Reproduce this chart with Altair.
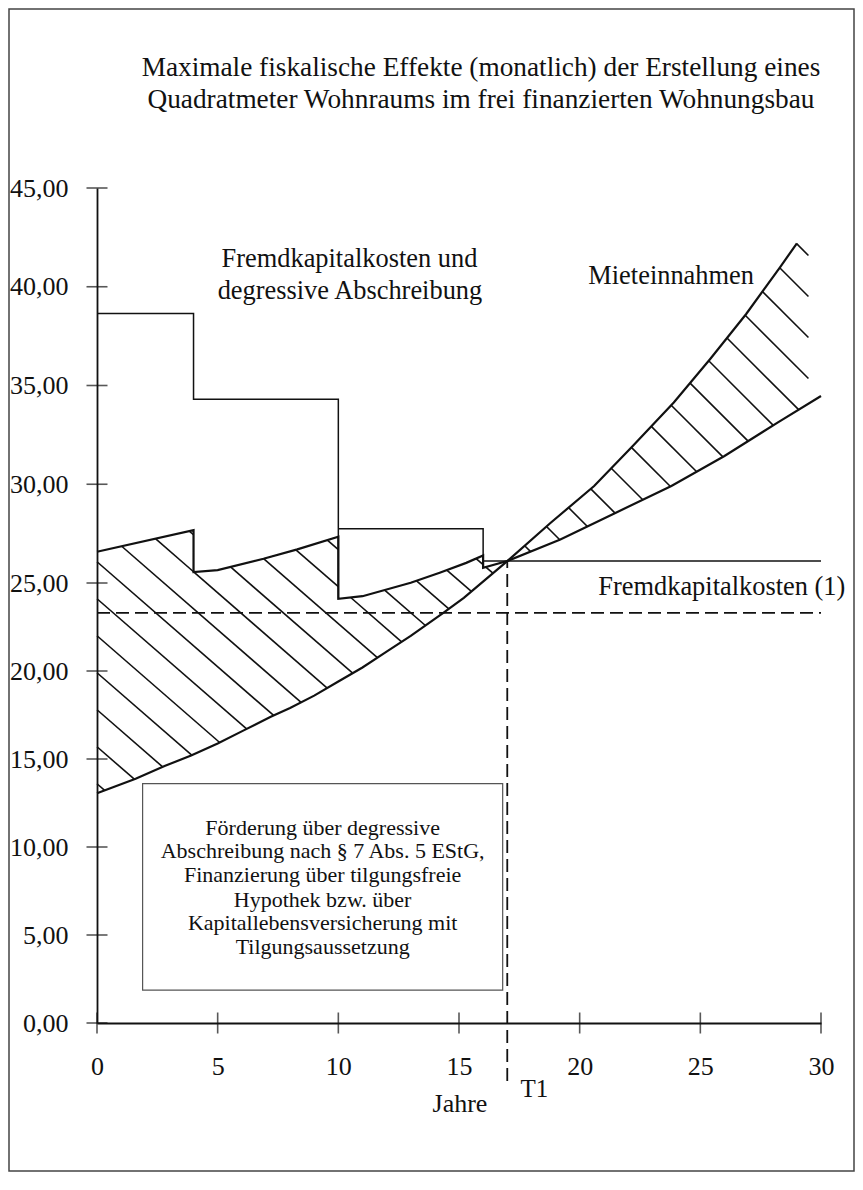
import altair as alt
import pandas as pd
import numpy as np

# ---------------- data ----------------
title_lines = [
    "Maximale fiskalische Effekte (monatlich) der Erstellung eines",
    "Quadratmeter Wohnraums im frei finanzierten Wohnungsbau",
]

# Fremdkapitalkosten und degressive Abschreibung (step line)
cost_x = [0, 4, 4, 10, 10, 10, 16, 16]
cost_y = [38.65, 38.65, 34.31, 34.31, 24.10, 27.75, 27.75, 25.77]

# Fremdkapitalkosten (1)
fk_x = [16, 30]
fk_y = [26.11, 26.11]

# Mieteinnahmen
miete_x = [0, 1.6, 2.8, 3.9, 5, 6.1, 7.2, 8, 9, 10, 11, 12, 13, 14.35, 15.2,
           17, 18.8, 20.6, 22.2, 23.9, 25.4, 26.9, 28.3, 29]
miete_y = [13.05, 13.88, 14.6, 15.2, 15.88, 16.64, 17.4, 17.9, 18.6, 19.4, 20.2,
           21.1, 22.0, 23.3, 24.16, 26.11, 28.05, 29.91, 31.94, 34.14, 36.33,
           38.62, 40.98, 42.2]

# boundary of the hatched effect (jagged before T1, smooth after)
eff_x = [0, 4, 4, 5, 6.9, 8.3, 10, 10, 11, 13, 14.2, 15.3, 16, 16, 17,
         19.2, 21.5, 23.8, 26, 28.2, 30]
eff_y = [26.58, 27.68, 25.55, 25.65, 26.23, 26.7, 27.34, 24.1, 24.25, 25.01,
         25.52, 26.02, 26.39, 25.77, 26.11, 27.2, 28.56, 29.91, 31.43, 33.12, 34.47]

dash_level = 23.3
t1_year = 17
t1_low = -3.3

x_ticks = [0, 5, 10, 15, 20, 25, 30]
y_ticks = [0, 5, 10, 15, 20, 25, 30, 35, 40, 45]

box_lines = [
    "Förderung über degressive",
    "Abschreibung nach § 7 Abs. 5 EStG,",
    "Finanzierung über tilgungsfreie",
    "Hypothek bzw. über",
    "Kapitallebensversicherung mit",
    "Tilgungsaussetzung",
]

# ---------------- layout ----------------
W, H = 724, 835
Y25 = 395          # the reference's value axis is drawn tighter below 25,00
XMAX, YMAX = 30, 45
FONT = "Liberation Serif"
INK = "#111111"

xs = alt.Scale(domain=[0, XMAX], nice=False, zero=False)
ys = alt.Scale(domain=[0, 25, YMAX], range=[H, Y25, 0], nice=False, zero=False)

AX = alt.Axis(values=x_ticks, format="d", ticks=False, tickSize=0, grid=False, title=None,
              domainColor=INK, domainWidth=1.8, labelFont=FONT, labelFontSize=26,
              labelColor=INK, labelPadding=30, labelFlush=False, zindex=1)
AY = alt.Axis(values=y_ticks, ticks=False, tickSize=0, grid=False, title=None,
              labelExpr="replace(format(datum.value, '.2f'), '.', ',')",
              domainColor=INK, domainWidth=1.8, labelFont=FONT, labelFontSize=26,
              labelColor=INK, labelPadding=29, labelFlush=False, zindex=1)


def X(f="x"):
    return alt.X(f"{f}:Q", scale=xs, axis=AX)


def Y(f="y"):
    return alt.Y(f"{f}:Q", scale=ys, axis=AY)


def series(xv, yv):
    return pd.DataFrame({"x": xv, "y": yv, "i": range(len(xv))})


# ---------------- hatching (diagonal lines clipped to the effect regions) ----------------
def to_px(x, y):
    py = H - y * (H - Y25) / 25 if y <= 25 else Y25 - (y - 25) * Y25 / (YMAX - 25)
    return x * W / XMAX, py


def to_data(px, py):
    y = (H - py) * 25 / (H - Y25) if py >= Y25 else 25 + (Y25 - py) * (YMAX - 25) / Y25
    return px * XMAX / W, y


def hatch(poly, c0, sp, m):
    P = [to_px(x, y) for x, y in poly]
    cs = [py - m * px for px, py in P]
    n = len(P)
    segs = []
    kmin = int(np.floor((min(cs) - c0) / sp))
    kmax = int(np.ceil((max(cs) - c0) / sp))
    for k in range(kmin, kmax + 1):
        c = c0 + k * sp
        pts = []
        for i in range(n):
            (ax, ay), (bx, by) = P[i], P[(i + 1) % n]
            ca, cb = cs[i], cs[(i + 1) % n]
            if (ca <= c < cb) or (cb <= c < ca):
                t = (c - ca) / (cb - ca)
                pts.append((ax + t * (bx - ax), ay + t * (by - ay)))
        pts.sort()
        for j in range(0, len(pts) - 1, 2):
            (x1, y1), (x2, y2) = pts[j], pts[j + 1]
            if abs(x2 - x1) < 0.5:
                continue
            d1, d2 = to_data(x1, y1), to_data(x2, y2)
            segs.append({"x": d1[0], "y": d1[1], "x2": d2[0], "y2": d2[1]})
    return segs


# region before T1: effect boundary on top, rent curve below
M1 = 0.87
up1 = [(x, y) for x, y in zip(eff_x, eff_y) if x <= t1_year]
lo1 = [(x, y) for x, y in zip(miete_x, miete_y) if x <= t1_year]
poly1 = up1 + lo1[::-1]
px0, py0 = to_px(0, 19.9)
segs = hatch(poly1, py0 - M1 * px0, 37.0, M1)

# region after T1: rent curve on top, effect boundary below
M2 = 1.0
cut = 29.48
top2 = [(x, y) for x, y in zip(miete_x, miete_y) if x >= t1_year]
apx, apy = to_px(*top2[-1])
c_apex = apy - M2 * apx + 0.6
cpx, _ = to_px(cut, 0)
corner = to_data(cpx, M2 * cpx + c_apex - 2)
bot2 = [(x, y) for x, y in zip(eff_x, eff_y) if t1_year <= x < cut]
poly2 = top2 + [(cut, corner[1]), (cut, float(np.interp(cut, eff_x, eff_y)))] + bot2[::-1]
segs += hatch(poly2, c_apex, 41.0, M2)
hatch_df = pd.DataFrame(segs)

# ---------------- layers ----------------
frame = alt.Chart(alt.Data(values=[{}])).mark_rect(
    fill="white", stroke="#444444", strokeWidth=1.5
).encode(
    x=alt.value(-88), x2=alt.value(W + 33), y=alt.value(-179), y2=alt.value(H + 148)
)

axes = alt.Chart(pd.DataFrame({"x": x_ticks, "y": [0] * len(x_ticks)})).mark_point(
    opacity=0
).encode(x=X(), y=Y())

xtick_marks = alt.Chart(pd.DataFrame({"x": x_ticks, "y": [0] * len(x_ticks)})).mark_tick(
    orient="vertical", size=21, thickness=1.6, color=INK
).encode(x=X(), y=Y())

ytick_marks = alt.Chart(pd.DataFrame({"x": [0] * len(y_ticks), "y": y_ticks})).mark_tick(
    orient="horizontal", size=21, thickness=1.6, color=INK
).encode(x=X(), y=Y())

box = alt.Chart(pd.DataFrame({"x": [1.89], "x2": [16.81], "y": [13.6], "y2": [1.87]})).mark_rect(
    fill="white", stroke="#555555", strokeWidth=1.2
).encode(x=X(), x2="x2:Q", y=Y(), y2="y2:Q")

hatch_layer = alt.Chart(hatch_df).mark_rule(color=INK, strokeWidth=1.6).encode(
    x=X(), y=Y(), x2="x2:Q", y2="y2:Q"
)

dash_h = alt.Chart(pd.DataFrame({"x": [0], "x2": [XMAX], "y": [dash_level]})).mark_rule(
    color=INK, strokeWidth=1.6, strokeDash=[13, 6]
).encode(x=X(), x2="x2:Q", y=Y())

dash_v = alt.Chart(pd.DataFrame({"x": [t1_year], "y": [t1_low], "y2": [26.11]})).mark_rule(
    color=INK, strokeWidth=1.8, strokeDash=[13, 6]
).encode(x=X(), y=Y(), y2="y2:Q")

cost_line = alt.Chart(series(cost_x, cost_y)).mark_line(
    color=INK, strokeWidth=1.5, strokeJoin="miter"
).encode(x=X(), y=Y(), order="i:Q")

fk_line = alt.Chart(series(fk_x, fk_y)).mark_line(color=INK, strokeWidth=1.5).encode(
    x=X(), y=Y(), order="i:Q")

miete_line = alt.Chart(series(miete_x, miete_y)).mark_line(
    color=INK, strokeWidth=2.2
).encode(x=X(), y=Y(), order="i:Q")

eff_line = alt.Chart(series(eff_x, eff_y)).mark_line(
    color=INK, strokeWidth=2.2, strokeJoin="miter"
).encode(x=X(), y=Y(), order="i:Q")

# ---------------- texts ----------------
labels = pd.DataFrame({
    "t": title_lines + ["Fremdkapitalkosten und", "degressive Abschreibung",
                        "Mieteinnahmen", "Fremdkapitalkosten (1)", "Jahre"],
    "x": [15.91, 15.91, 10.46, 10.48, 23.79, 25.89, 15.04],
    "y": [51.1, 49.48, 41.40, 39.80, 40.56, 24.77, -4.6],
    "s": [27.3, 27.3, 26.4, 26.4, 26.4, 26.4, 26],
})
text_layer = alt.Chart(labels).mark_text(
    font=FONT, color=INK, align="center", baseline="middle"
).encode(x=X(), y=Y(), text="t:N", size=alt.Size("s:Q", scale=None, legend=None))

t1_text = alt.Chart(pd.DataFrame({"t": ["T1"], "x": [17.55], "y": [-3.75]})).mark_text(
    font=FONT, color=INK, align="left", baseline="middle", fontSize=25
).encode(x=X(), y=Y(), text="t:N")

box_text = alt.Chart(pd.DataFrame({
    "t": box_lines,
    "x": [9.35] * len(box_lines),
    "y": [11.1, 9.77, 8.43, 7.0, 5.67, 4.34],
})).mark_text(font=FONT, color=INK, align="center", baseline="middle", fontSize=22).encode(
    x=X(), y=Y(), text="t:N")

chart = alt.layer(
    frame, axes, box, hatch_layer, dash_h, eff_line, miete_line, cost_line, fk_line,
    dash_v, xtick_marks, ytick_marks, text_layer, t1_text, box_text,
).properties(
    width=W, height=H,
    autosize=alt.AutoSizeParams(type="none"),
    padding={"left": 89, "top": 180, "right": 34, "bottom": 150},
).configure_view(strokeWidth=0).configure(background="white")

chart.save("out.html", embed_options={"renderer": "svg", "actions": False})
